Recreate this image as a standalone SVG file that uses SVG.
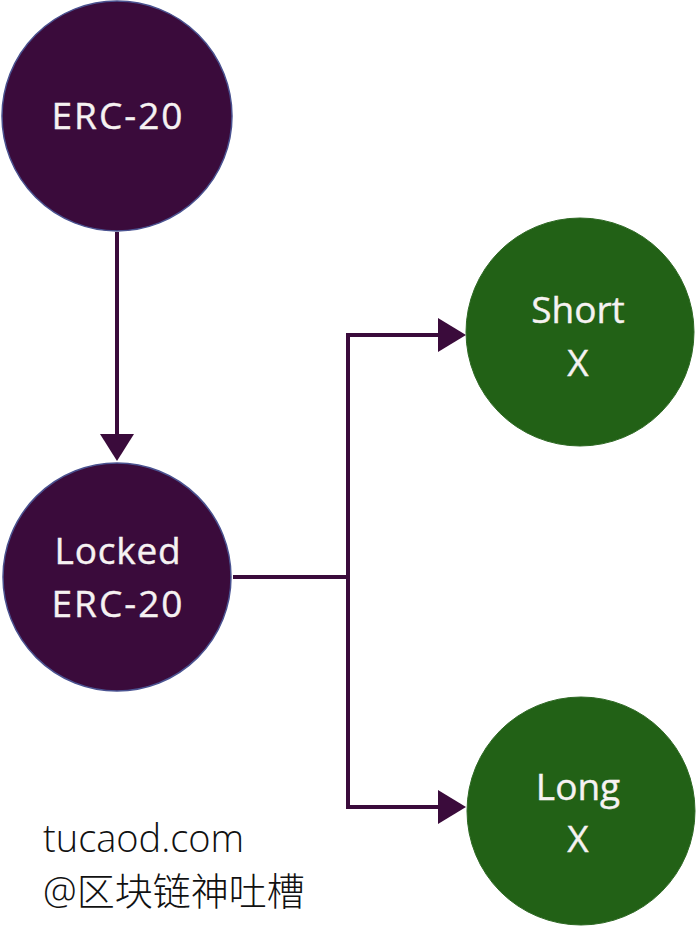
<svg xmlns="http://www.w3.org/2000/svg" width="700" height="930" viewBox="0 0 700 930">
<style>
.pur{fill:#3a0b3b;stroke:#4a5290;stroke-width:1.5}
.grn{fill:#226116;stroke:#2f6a25;stroke-width:1}
.lbl{font-family:"Open Sans","Noto Sans","DejaVu Sans",sans-serif;font-size:37px;fill:#f6f2f2;text-anchor:middle;stroke:#f6f2f2;stroke-width:0.4}
.wide{letter-spacing:2px}
.con{fill:none;stroke:#3a0b3b;stroke-width:4}
.ah{fill:#3a0b3b}
.foot{font-family:"Open Sans","Noto Sans CJK SC",sans-serif;font-weight:300;font-size:38px;fill:#111}
</style>
<rect width="700" height="930" fill="#ffffff"/>
<g id="connectors">
<path class="con" d="M117,232 L117,436"/>
<polygon class="ah" points="100,434 134,434 117,461"/>
<path class="con" d="M233,577 L348,577"/>
<path class="con" d="M348,577 L348,335 L440,335"/>
<polygon class="ah" points="438,318 438,352 466,335"/>
<path class="con" d="M348,577 L348,807 L440,807"/>
<polygon class="ah" points="438,790 438,824 466,807"/>
</g>
<g id="erc20">
<circle class="pur" cx="117" cy="116" r="115"/>
<text class="lbl wide" x="118" y="129">ERC-20</text>
</g>
<g id="locked">
<circle class="pur" cx="117" cy="577" r="114"/>
<text class="lbl" x="118" y="564" style="letter-spacing:0.8px">Locked</text>
<text class="lbl wide" x="118" y="617">ERC-20</text>
</g>
<g id="short">
<circle class="grn" cx="580" cy="332" r="114"/>
<text class="lbl" x="578" y="323">Short</text>
<text class="lbl" x="578" y="376">X</text>
</g>
<g id="long">
<circle class="grn" cx="581" cy="811" r="114"/>
<text class="lbl" x="578" y="800">Long</text>
<text class="lbl" x="578" y="852">X</text>
</g>
<g id="footer">
<text class="foot" x="43" y="852">tucaod.com</text>
<text class="foot" x="43" y="905">@区块链神吐槽</text>
</g>
</svg>
